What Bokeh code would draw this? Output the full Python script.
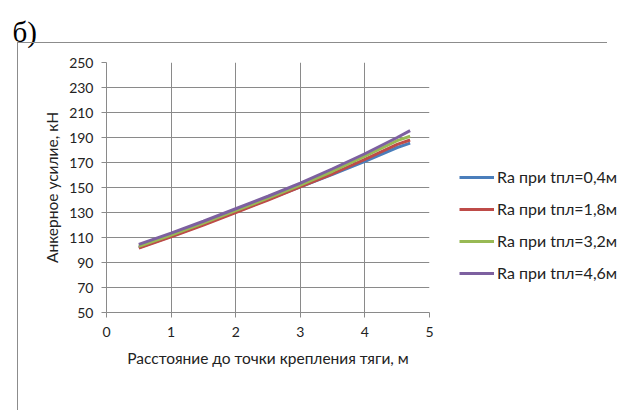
from bokeh.plotting import figure
from bokeh.models import Legend, LegendItem, FixedTicker, Range1d, InlineStyleSheet
from bokeh.embed import file_html
from bokeh.resources import INLINE

# ---- data ----
x_vals = [0.5, 1.0, 1.5, 2.0, 2.5, 3.0, 3.5, 4.0, 4.5, 4.7]
ra_04 = [102.0, 111.0, 120.5, 130.5, 140.5, 150.5, 160.5, 171.0, 182.0, 185.5]
ra_18 = [101.5, 110.5, 120.0, 130.0, 140.0, 150.5, 161.0, 172.5, 184.5, 188.0]
ra_32 = [103.0, 112.0, 121.5, 131.5, 141.5, 152.0, 163.0, 175.0, 187.5, 191.0]
ra_46 = [104.5, 113.5, 123.0, 133.0, 143.0, 153.5, 165.0, 177.0, 190.0, 195.5]
series_names = ["Ra при tпл=0,4м", "Ra при tпл=1,8м", "Ra при tпл=3,2м", "Ra при tпл=4,6м"]
series_colors = ["#4A7EBB", "#BE4B48", "#98B954", "#7D60A0"]
x_ticks = [0, 1, 2, 3, 4, 5]
y_ticks = [50, 70, 90, 110, 130, 150, 170, 190, 210, 230, 250]

FONT = "Lato"
GRID = "#8a8a8a"
TXT = "#222222"

p = figure(frame_width=323, frame_height=250, output_backend="svg", toolbar_location=None,
           x_range=Range1d(0, 5), y_range=Range1d(50, 250),
           min_border_left=106, min_border_right=191, min_border_top=62, min_border_bottom=98)
p.outline_line_color = None
p.background_fill_color = "white"
p.border_fill_color = "white"
p.styles = {"max-width": "620px", "overflow": "hidden"}

# panel label "б)"
p.title.text = "б)"
p.title.text_font = "Liberation Serif"
p.title.text_font_size = "29px"
p.title.text_font_style = "normal"
p.title.text_color = "black"
p.title.vertical_align = "top"
p.title.align = "left"
p.title.offset = -94
p.title.standoff = 25

renderers = []
for ys, c in zip([ra_04, ra_18, ra_32, ra_46], series_colors):
    r = p.line(x_vals, ys, line_color=c, line_width=3)
    renderers.append(r)

# axes
for ax in (p.xaxis[0], p.yaxis[0]):
    ax.axis_line_color = GRID
    ax.major_tick_line_color = GRID
    ax.minor_tick_line_color = None
    ax.major_tick_in = 0
    ax.major_tick_out = 5
    ax.major_label_text_font = FONT
    ax.major_label_text_font_size = "14px"
    ax.major_label_text_color = TXT
    ax.axis_label_text_font = FONT
    ax.axis_label_text_font_size = "15.5px"
    ax.axis_label_text_font_style = "normal"
    ax.axis_label_text_color = TXT
p.xaxis.ticker = FixedTicker(ticks=x_ticks)
p.yaxis.ticker = FixedTicker(ticks=y_ticks)
p.xaxis.axis_label = "Расстояние до точки крепления тяги, м"
p.yaxis.axis_label = "Анкерное усилие, кН"
p.xaxis.major_label_standoff = 9
p.yaxis.major_label_standoff = 8
p.xaxis.axis_label_standoff = 9
p.yaxis.axis_label_standoff = 5

p.xgrid.ticker = FixedTicker(ticks=x_ticks)
p.ygrid.ticker = FixedTicker(ticks=y_ticks)
p.grid.grid_line_color = GRID
p.grid.grid_line_width = 1

legend = Legend(items=[LegendItem(label=n, renderers=[r]) for n, r in zip(series_names, renderers)],
                location="bottom_left", orientation="vertical",
                padding=0, margin=30, spacing=13, glyph_width=35, glyph_height=18,
                label_height=18, label_standoff=3,
                label_text_font=FONT, label_text_font_size="16px", label_text_color=TXT,
                border_line_color=None, background_fill_alpha=0)
p.add_layout(legend, "right")

# chart-area border (top and left edges)
p.stylesheets = [InlineStyleSheet(css=(
    ":host { position: relative; }"
    ":host::after { content: ''; position: absolute; left: 17px; top: 42px; "
    "width: 589px; height: 420px; border-top: 1px solid #8c8c8c; "
    "border-left: 1px solid #8c8c8c; pointer-events: none; }"
))]

open("out.html", "w").write(file_html(p, INLINE))
